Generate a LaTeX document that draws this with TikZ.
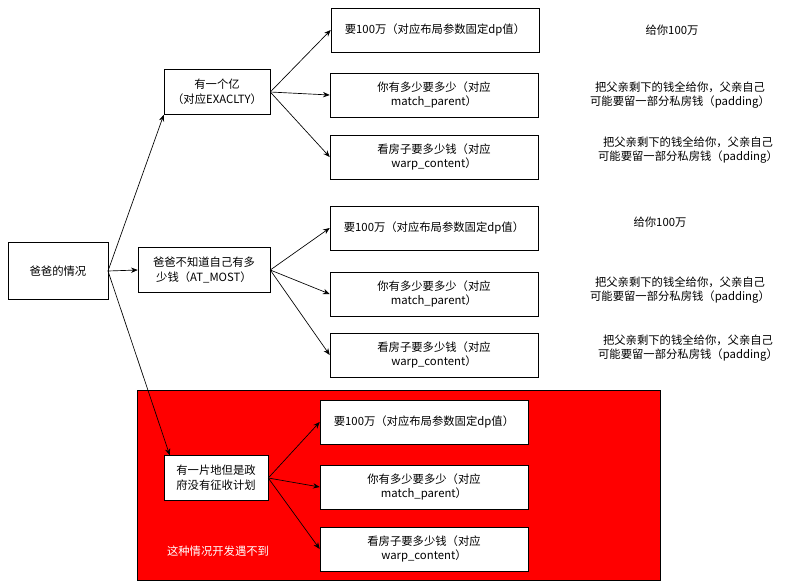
\documentclass[tikz,border=0pt]{standalone}
\usepackage{fontspec}
\setmainfont{Noto Sans CJK SC}
\usetikzlibrary{arrows.meta}
\begin{document}
\begin{tikzpicture}[x=0.75pt,y=-0.75pt,
  box/.style={draw,fill=white,inner sep=0pt,align=center,font=\fontsize{8.5}{11}\selectfont},
  note/.style={align=center,font=\fontsize{8.5}{11}\selectfont},
  arr/.style={-{Stealth[length=5pt,width=4pt]},line width=0.5pt}]
\useasboundingbox (0,0) rectangle (790,587);
\fill[red] (137,390) rectangle (660,580);
\draw[line width=0.5pt] (137,390) rectangle (660,580);
\node[box,minimum width=100*0.75pt,minimum height=57*0.75pt] (root) at (58,271) {爸爸的情况};
\node[box,minimum width=106*0.75pt,minimum height=45*0.75pt] (a) at (217,92) {有一个亿\\（对应EXACLTY）};
\node[box,minimum width=132*0.75pt,minimum height=45*0.75pt] (b) at (204,270) {爸爸不知道自己有多\\少钱（AT\_MOST）};
\node[box,minimum width=104*0.75pt,minimum height=45*0.75pt] (c) at (216,478) {有一片地但是政\\府没有征收计划};
\foreach \n/\x/\y/\t in {a1/435/30/{要100万（对应布局参数固定dp值）},
  a2/434/95/{你有多少要多少（对应\\match\_parent）},
  a3/434/157/{看房子要多少钱（对应\\warp\_content）},
  b1/434/228/{要100万（对应布局参数固定dp值）},
  b2/434/294/{你有多少要多少（对应\\match\_parent）},
  b3/434/355/{看房子要多少钱（对应\\warp\_content）},
  c1/424/422/{要100万（对应布局参数固定dp值）},
  c2/424/487/{你有多少要多少（对应\\match\_parent）},
  c3/424/549/{看房子要多少钱（对应\\warp\_content）}}
  \node[box,minimum width=208*0.75pt,minimum height=44*0.75pt] (\n) at (\x,\y) {\t};
\node[note] (na1) at (672,30) {给你100万};
\node[note] (na2) at (680,95) {把父亲剩下的钱全给你，父亲自己\\可能要留一部分私房钱（padding）};
\node[note] (na3) at (688,150) {把父亲剩下的钱全给你，父亲自己\\可能要留一部分私房钱（padding）};
\node[note] (nb1) at (660,222) {给你100万};
\node[note] (nb2) at (680,290) {把父亲剩下的钱全给你，父亲自己\\可能要留一部分私房钱（padding）};
\node[note] (nb3) at (688,348) {把父亲剩下的钱全给你，父亲自己\\可能要留一部分私房钱（padding）};
\node[note,text=white] (nc) at (218,551) {这种情况开发遇不到};
\coordinate (r0) at (108,271);
\draw[arr] (r0) -- (a.south west);
\draw[arr] (r0) -- (b.west);
\draw[arr] (r0) -- ([xshift=6*0.75pt]c.north west);
\foreach \p/\q in {a/a,b/b,c/c}{
  \draw[arr] (\p.east) -- (\q1.west);
  \draw[arr] (\p.east) -- (\q2.west);
  \draw[arr] (\p.east) -- (\q3.west);}
\end{tikzpicture}
\end{document}
